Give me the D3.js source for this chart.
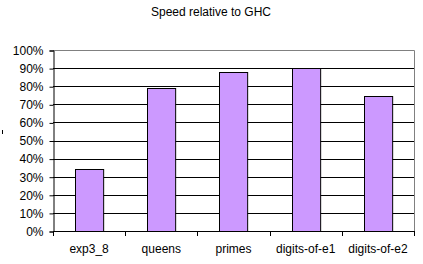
<!DOCTYPE html>
<html>
<head>
<meta charset="utf-8">
<script src="https://cdn.jsdelivr.net/npm/d3@7"></script>
<style>
  body { margin: 0; background: #fff; }
  svg { display: block; }
  text { font-family: "Liberation Sans", Arial, sans-serif; font-size: 12px; fill: #000; }
</style>
</head>
<body>
<svg width="423" height="264"></svg>
<script>
var categories = ['exp3_8', 'queens', 'primes', 'digits-of-e1', 'digits-of-e2'];
var speeds = [0.343, 0.789, 0.877, 0.899, 0.745];
var yTicks = [0, 0.1, 0.2, 0.3, 0.4, 0.5, 0.6, 0.7, 0.8, 0.9, 1.0];

var width = 423;
var height = 264;
var margin = {
  top: 50,
  bottom: 33,
  left: 53,
  right: 9
}

var svg = d3.select('svg')

var xScale = d3.scaleBand()
  .domain(categories)
  .range([margin.left, width - margin.right])
  .paddingInner(0.61)
  .paddingOuter(0.305)

var yScale = d3.scaleLinear()
  .domain([0, 1])
  .range([height - margin.bottom, margin.top])

// title
svg.append('text')
  .attr('x', 211)
  .attr('y', 16)
  .attr('text-anchor', 'middle')
  .text('Speed relative to GHC')

// gridlines (black)
svg.append('g')
  .selectAll('line')
  .data(yTicks.filter(d => d > 0 && d < 1))
  .enter().append('line')
  .attr('x1', margin.left)
  .attr('x2', width - margin.right)
  .attr('y1', d => Math.round(yScale(d)) + 0.5)
  .attr('y2', d => Math.round(yScale(d)) + 0.5)
  .attr('stroke', '#000')

// plot frame top and right in gray
var right = width - margin.right
svg.append('path')
  .attr('d', 'M' + margin.left + ',' + (Math.round(yScale(1)) + 0.5) + 'H' + (right + 0.5) + 'V' + (Math.round(yScale(0)) + 0.5))
  .attr('fill', 'none')
  .attr('stroke', '#808080')

// bars
svg.append('g')
  .selectAll('rect')
  .data(speeds)
  .enter().append('rect')
  .attr('x', (d, i) => Math.round(xScale(categories[i])) + 0.5)
  .attr('y', d => Math.round(yScale(d)) + 0.5)
  .attr('width', xScale.bandwidth())
  .attr('height', d => Math.round(yScale(0)) - Math.round(yScale(d)))
  .attr('fill', '#cc99ff')
  .attr('stroke', '#000')

// y axis
var yAxis = d3.axisLeft(yScale)
  .tickValues(yTicks)
  .tickFormat(d3.format('.0%'))
  .tickSize(4)
  .tickPadding(6)

var gy = svg.append('g')
  .attr('transform', 'translate(' + [margin.left + 0.5, 0.5] + ')')
  .call(yAxis)
gy.selectAll('path, line').attr('stroke', '#000')
gy.selectAll('text').style('font-family', '"Liberation Sans", Arial, sans-serif').style('font-size', '12px')

// x axis: ticks at category boundaries
var boundaries = d3.range(categories.length + 1).map(i => margin.left + i * (width - margin.left - margin.right) / categories.length)
var gx = svg.append('g')
gx.append('line')
  .attr('x1', margin.left)
  .attr('x2', right + 1)
  .attr('y1', Math.round(yScale(0)) + 0.5)
  .attr('y2', Math.round(yScale(0)) + 0.5)
  .attr('stroke', '#000')
gx.selectAll('.tk')
  .data(boundaries)
  .enter().append('line')
  .attr('class', 'tk')
  .attr('x1', d => Math.round(d) + 0.5)
  .attr('x2', d => Math.round(d) + 0.5)
  .attr('y1', Math.round(yScale(0)))
  .attr('y2', Math.round(yScale(0)) + 5)
  .attr('stroke', '#000')
gx.selectAll('text')
  .data(categories)
  .enter().append('text')
  .attr('x', d => xScale(d) + xScale.bandwidth() / 2)
  .attr('y', Math.round(yScale(0)) + 22)
  .attr('text-anchor', 'middle')
  .text(d => d)

// clipped fragment of the axis title at left edge
svg.append('rect')
  .attr('x', 2)
  .attr('y', 130)
  .attr('width', 1)
  .attr('height', 4)
  .attr('fill', '#000')
</script>
</body>
</html>
